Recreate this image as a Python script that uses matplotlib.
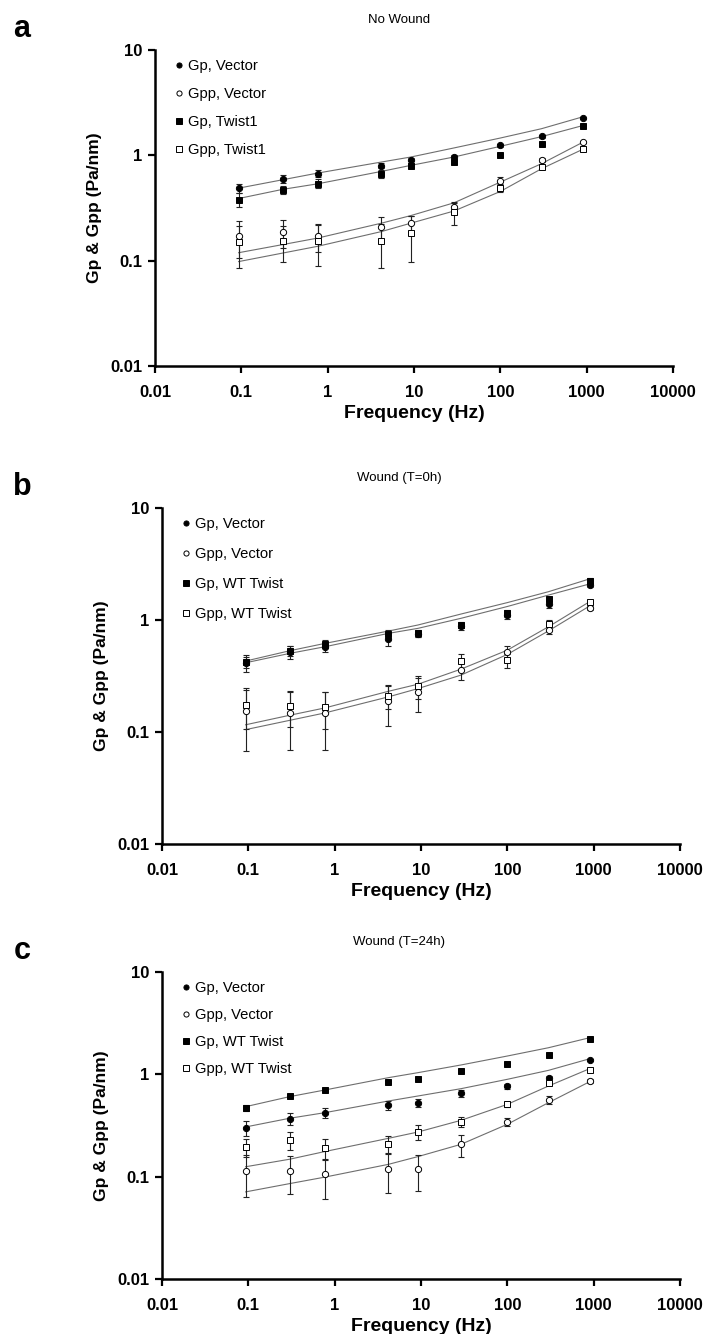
import matplotlib
matplotlib.use("Agg")
import matplotlib.pyplot as plt
from matplotlib.lines import Line2D

plt.rcParams['font.family'] = ['Liberation Sans', 'DejaVu Sans']

freq = [0.093, 0.30, 0.77, 4.2, 9.2, 29, 100, 300, 900]
xticks = [0.01, 0.1, 1, 10, 100, 1000, 10000]
xtick_labels = ["0.01", "0.1", "1", "10", "100", "1000", "10000"]
yticks = [0.01, 0.1, 1, 10]
ytick_labels = ["0.01", "0.1", "1", "10"]

panel_letters = ["a", "b", "c"]
titles = ["No Wound", "Wound (T=0h)", "Wound (T=24h)"]
labels_a = ["Gp, Vector", "Gpp, Vector", "Gp, Twist1", "Gpp, Twist1"]
labels_bc = ["Gp, Vector", "Gpp, Vector", "Gp, WT Twist", "Gpp, WT Twist"]

# Panel a
gp_vec_a = [0.49, 0.60, 0.67, 0.80, 0.90, 0.96, 1.24, 1.51, 2.25]
gp_vec_a_err = [0.05, 0.05, 0.05, 0.05, 0.05, 0.04, 0.04, 0.05, 0.03]
gpp_vec_a = [0.172, 0.186, 0.172, 0.21, 0.227, 0.32, 0.574, 0.90, 1.33]
gpp_vec_a_err = [0.065, 0.055, 0.05, 0.05, 0.04, 0.03, 0.05, 0.04, 0.03]
gp_tw_a = [0.38, 0.47, 0.54, 0.67, 0.79, 0.86, 1.0, 1.28, 1.88]
gp_tw_a_err = [0.06, 0.04, 0.05, 0.06, 0.03, 0.03, 0.03, 0.04, 0.03]
gpp_tw_a = [0.15, 0.155, 0.153, 0.153, 0.182, 0.29, 0.49, 0.77, 1.14]
gpp_tw_a_err = [0.065, 0.057, 0.064, 0.068, 0.085, 0.07, 0.04, 0.03, 0.03]
fit_gp_vec_a = [0.488, 0.586, 0.679, 0.864, 0.964, 1.175, 1.46, 1.79, 2.32]
fit_gpp_vec_a = [0.119, 0.142, 0.164, 0.227, 0.268, 0.354, 0.557, 0.833, 1.33]
fit_gp_tw_a = [0.389, 0.475, 0.537, 0.704, 0.803, 0.964, 1.218, 1.505, 1.916]
fit_gpp_tw_a = [0.098, 0.118, 0.137, 0.189, 0.227, 0.296, 0.454, 0.746, 1.14]

# Panel b
gp_vec_b = [0.415, 0.52, 0.577, 0.67, 0.75, 0.88, 1.11, 1.39, 2.06]
gp_vec_b_err = [0.07, 0.07, 0.06, 0.08, 0.05, 0.06, 0.08, 0.10, 0.10]
gpp_vec_b = [0.153, 0.149, 0.149, 0.188, 0.227, 0.361, 0.52, 0.81, 1.29]
gpp_vec_b_err = [0.085, 0.08, 0.08, 0.075, 0.075, 0.07, 0.06, 0.06, 0.05]
gp_tw_b = [0.42, 0.53, 0.61, 0.75, 0.76, 0.90, 1.15, 1.54, 2.25]
gp_tw_b_err = [0.05, 0.05, 0.05, 0.06, 0.05, 0.06, 0.08, 0.08, 0.10]
gpp_tw_b = [0.176, 0.171, 0.166, 0.209, 0.258, 0.43, 0.435, 0.93, 1.45]
gpp_tw_b_err = [0.07, 0.06, 0.06, 0.05, 0.06, 0.07, 0.06, 0.06, 0.05]
fit_gp_vec_b = [0.415, 0.503, 0.577, 0.76, 0.842, 1.035, 1.32, 1.67, 2.10]
fit_gpp_vec_b = [0.105, 0.127, 0.148, 0.206, 0.244, 0.322, 0.493, 0.80, 1.335]
fit_gp_tw_b = [0.43, 0.531, 0.618, 0.797, 0.902, 1.13, 1.43, 1.79, 2.33]
fit_gpp_tw_b = [0.116, 0.141, 0.164, 0.231, 0.267, 0.364, 0.538, 0.871, 1.46]

# Panel c
gp_vec_c = [0.301, 0.369, 0.422, 0.501, 0.528, 0.652, 0.763, 0.928, 1.37]
gp_vec_c_err = [0.05, 0.05, 0.05, 0.05, 0.05, 0.05, 0.05, 0.04, 0.03]
gpp_vec_c = [0.114, 0.114, 0.105, 0.12, 0.118, 0.207, 0.344, 0.561, 0.861]
gpp_vec_c_err = [0.05, 0.047, 0.044, 0.05, 0.046, 0.05, 0.03, 0.05, 0.03]
gp_tw_c = [0.466, 0.614, 0.703, 0.842, 0.907, 1.078, 1.27, 1.545, 2.2]
gp_tw_c_err = [0.03, 0.02, 0.02, 0.02, 0.02, 0.03, 0.03, 0.03, 0.03]
gpp_tw_c = [0.196, 0.228, 0.189, 0.207, 0.273, 0.344, 0.509, 0.823, 1.10]
gpp_tw_c_err = [0.04, 0.045, 0.045, 0.04, 0.045, 0.04, 0.03, 0.03, 0.03]
fit_gp_vec_c = [0.306, 0.372, 0.422, 0.549, 0.614, 0.724, 0.894, 1.094, 1.42]
fit_gpp_vec_c = [0.071, 0.0855, 0.099, 0.132, 0.157, 0.207, 0.325, 0.529, 0.848]
fit_gp_tw_c = [0.483, 0.605, 0.703, 0.928, 1.038, 1.234, 1.51, 1.82, 2.28]
fit_gpp_tw_c = [0.125, 0.148, 0.176, 0.237, 0.273, 0.355, 0.509, 0.769, 1.136]

panels = [
    dict(series=[(gp_vec_a, gp_vec_a_err, fit_gp_vec_a), (gpp_vec_a, gpp_vec_a_err, fit_gpp_vec_a),
                 (gp_tw_a, gp_tw_a_err, fit_gp_tw_a), (gpp_tw_a, gpp_tw_a_err, fit_gpp_tw_a)],
         labels=labels_a, box=(155, 673, 50, 366), spacing=0.95),
    dict(series=[(gp_vec_b, gp_vec_b_err, fit_gp_vec_b), (gpp_vec_b, gpp_vec_b_err, fit_gpp_vec_b),
                 (gp_tw_b, gp_tw_b_err, fit_gp_tw_b), (gpp_tw_b, gpp_tw_b_err, fit_gpp_tw_b)],
         labels=labels_bc, box=(162, 680, 508, 844), spacing=1.08),
    dict(series=[(gp_vec_c, gp_vec_c_err, fit_gp_vec_c), (gpp_vec_c, gpp_vec_c_err, fit_gpp_vec_c),
                 (gp_tw_c, gp_tw_c_err, fit_gp_tw_c), (gpp_tw_c, gpp_tw_c_err, fit_gpp_tw_c)],
         labels=labels_bc, box=(162, 680, 972, 1279), spacing=0.88),
]

styles = [
    dict(marker='o', mfc='black', ms=4.5),
    dict(marker='o', mfc='white', ms=4.5),
    dict(marker='s', mfc='black', ms=4.5),
    dict(marker='s', mfc='white', ms=4.5),
]

W, H = 707, 1334
fig = plt.figure(figsize=(W / 100, H / 100), dpi=100)

for i, p in enumerate(panels):
    l, r, t, b = p['box']
    ax = fig.add_axes([l / W, 1 - b / H, (r - l) / W, (b - t) / H])
    ax.set_xscale('log')
    ax.set_yscale('log')
    ax.set_xlim(0.01, 10000)
    ax.set_ylim(0.01, 10)
    handles = []
    for (vals, err, fit), st in zip(p['series'], styles):
        ax.plot(freq, fit, color='#6e6e6e', lw=0.8, zorder=2)
        ax.errorbar(freq, vals, yerr=err, fmt='none', ecolor='#222222',
                    elinewidth=0.8, capsize=2.2, capthick=0.8, zorder=3)
        ax.plot(freq, vals, ls='none', marker=st['marker'], ms=st['ms'],
                mfc=st['mfc'], mec='black', mew=0.7, zorder=4)
        handles.append(Line2D([], [], ls='none', marker=st['marker'], ms=st['ms'] - 0.8,
                              mfc=st['mfc'], mec='black', mew=0.7))
    ax.legend(handles, p['labels'], loc='upper left',
              bbox_to_anchor=(20 / (r - l), 1 - 9 / (b - t)),
              frameon=False, fontsize=10.6, handlelength=0.6, handletextpad=0.3,
              labelspacing=p['spacing'], borderpad=0, borderaxespad=0)
    for s in ['top', 'right']:
        ax.spines[s].set_visible(False)
    for s in ['left', 'bottom']:
        ax.spines[s].set_linewidth(1.8)
    ax.set_xticks(xticks)
    ax.set_xticklabels(xtick_labels)
    ax.set_yticks(yticks)
    ax.set_yticklabels(ytick_labels)
    ax.minorticks_off()
    ax.tick_params(axis='both', direction='out', length=5, width=1.6,
                   labelsize=12, pad=4)
    ax.tick_params(axis='x', pad=9)
    for lab in ax.get_xticklabels() + ax.get_yticklabels():
        lab.set_fontweight('bold')
    ax.set_xlabel('Frequency (Hz)', fontsize=14, fontweight='bold', labelpad=3)
    ax.set_ylabel('Gp & Gpp (Pa/nm)', fontsize=12.5, fontweight='bold', labelpad=6)
    # title and panel letter
    fig.text(0.565, 1 - (t - 30) / H, titles[i], ha='center', va='center', fontsize=9.5)
    fig.text(22 / W, 1 - (t - 21) / H, panel_letters[i], ha='center', va='center',
             fontsize=22, fontweight='bold')

fig.savefig('out.png', dpi=100)
